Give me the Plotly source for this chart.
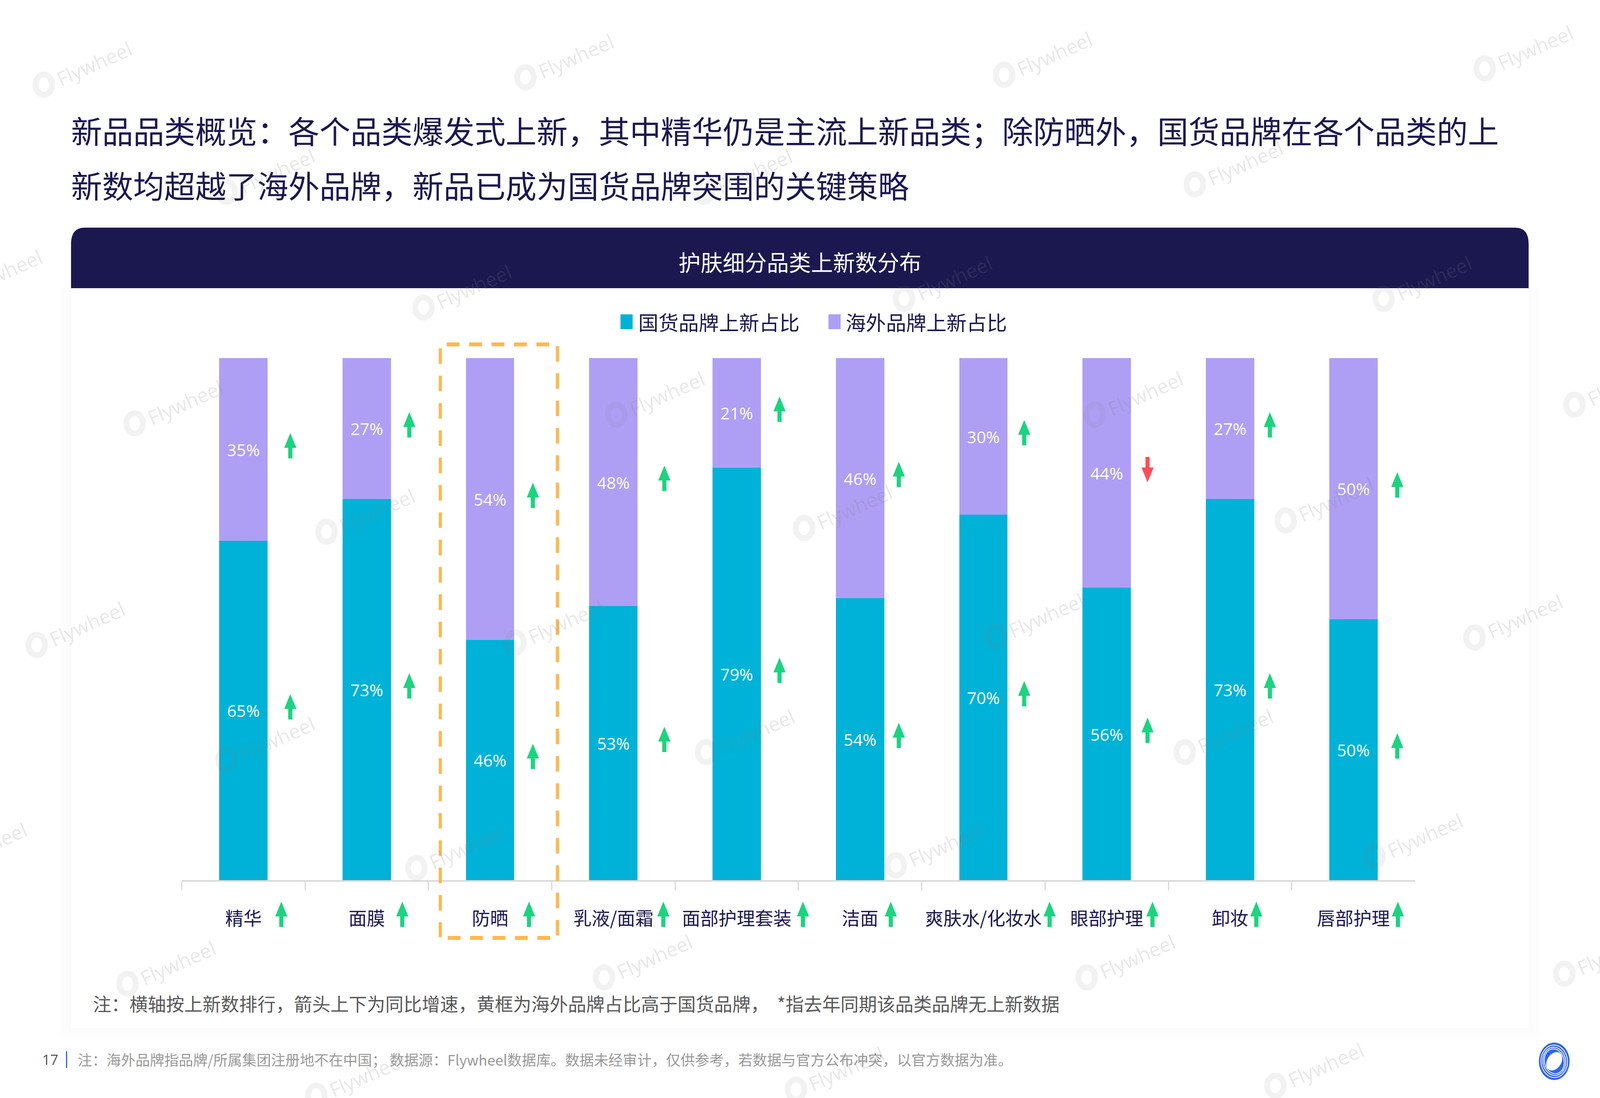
import math
import plotly.graph_objects as go

# ---------- data ----------
categories = ["精华", "面膜", "防晒", "乳液/面霜", "面部护理套装", "洁面", "爽肤水/化妆水", "眼部护理", "卸妆", "唇部护理"]
domestic_share = [65, 73, 46, 52.5, 79, 54, 70, 56, 73, 50]
overseas_share = [35, 27, 54, 47.5, 21, 46, 30, 44, 27, 50]
domestic_labels = ["65%", "73%", "46%", "53%", "79%", "54%", "70%", "56%", "73%", "50%"]
overseas_labels = ["35%", "27%", "54%", "48%", "21%", "46%", "30%", "44%", "27%", "50%"]
domestic_trend = ["up"] * 10
overseas_trend = ["up", "up", "up", "up", "up", "up", "up", "down", "up", "up"]
category_trend = ["up"] * 10
series_names = ["国货品牌上新占比", "海外品牌上新占比"]

title_lines = ["新品品类概览：各个品类爆发式上新，其中精华仍是主流上新品类；除防晒外，国货品牌在各个品类的上",
               "新数均超越了海外品牌，新品已成为国货品牌突围的关键策略"]
panel_title = "护肤细分品类上新数分布"
note_text = "注：横轴按上新数排行，箭头上下为同比增速，黄框为海外品牌占比高于国货品牌，  *指去年同期该品类品牌无上新数据"
source_text = "注：海外品牌指品牌/所属集团注册地不在中国； 数据源：Flywheel数据库。数据未经审计，仅供参考，若数据与官方公布冲突，以官方数据为准。"
page_number = "17"

# ---------- layout constants ----------
# Layout is measured on the reference's 5000x2812 canvas; the browser window really is 4096 wide,
# so the figure fills 4096x2812 with the same fractional positions and width-fitted fonts.
W, H = 5000, 2812
FIG_W = 4096
S = FIG_W / W
TEAL, PURPLE, NAVY = "#00B2D7", "#AE9FF5", "#1B1850"
GREEN, RED, ORANGE = "#1BD47F", "#FF4D5A", "#FFB84D"
CJK = "Noto Sans CJK SC"
LATIN = "Open Sans"
PX0, PX1, PY_TOP, PY_BOT = 568, 4422, 917, 2254
BAR_SIDE_OFFSET = [.38, .345, .347, .413, .347, .314, .331, .331, .323, .356]
TICK_SIDE_OFFSET = [.307, .288, .316, .405, .537, .249, .537, .371, .213, .361]
ARROW_LIFT = 9


def fx(p): return p / W
def fy(p): return 1 - p / H


shapes, annotations = [], []


def text(s, x, y, size, color, family=CJK, anchor="left", angle=0):
    annotations.append(dict(text=s, x=fx(x), y=fy(y), xref="paper", yref="paper", xanchor=anchor,
                            yanchor="middle", showarrow=False, textangle=angle,
                            font=dict(size=size * S, color=color, family=family)))


def rect(x0, y0, x1, y1, fill, layer="below"):
    shapes.append(dict(type="rect", xref="paper", yref="paper", x0=fx(x0), x1=fx(x1), y0=fy(y0), y1=fy(y1),
                       fillcolor=fill, line=dict(width=0), layer=layer))


def seg(x0, y0, x1, y1, color, width, dash="solid", layer="above"):
    shapes.append(dict(type="line", xref="paper", yref="paper", x0=fx(x0), x1=fx(x1), y0=fy(y0), y1=fy(y1),
                       line=dict(color=color, width=width, dash=dash), layer=layer))


def ellipse_path(cx, cy, a, b, deg, n=48):
    t = math.radians(deg)
    pts = []
    for k in range(n):
        u = 2 * math.pi * k / n
        ex, ey = a * math.cos(u), b * math.sin(u)
        px = cx + ex * math.cos(t) - ey * math.sin(t)
        py = cy + ex * math.sin(t) + ey * math.cos(t)
        pts.append(f"{fx(px):.5f},{fy(py):.5f}")
    return "M" + " L".join(pts) + " Z"


def arrow_path(direction):
    s = 1 if direction == "up" else -1
    pts = [(0, 33), (19, -5), (6.5, -5), (6.5, -32), (-6.5, -32), (-6.5, -5), (-19, -5)]
    return "M" + " L".join(f"{x * S:.2f},{s * y}" for x, y in pts) + " Z"


def arrow(i, offset, yref, yanchor, direction):
    shapes.append(dict(type="path", xref="x", yref=yref, xsizemode="pixel", ysizemode="pixel",
                       xanchor=i + offset, yanchor=yanchor, path=arrow_path(direction),
                       fillcolor=GREEN if direction == "up" else RED, line=dict(width=0), layer="above"))


# ---------- card + header ----------
for grow, dy in [(36, 30), (26, 22), (16, 14), (8, 6)]:
    rect(222 - grow, 738, 4777 + grow, 2632 + dy, "rgba(0,0,0,0.005)")
rect(222, 738, 4777, 2632, "#FFFFFF")
r = 42
shapes.append(dict(type="path", xref="paper", yref="paper", layer="below", fillcolor=NAVY, line=dict(width=0),
                   path=f"M{fx(222)},{fy(738)} L{fx(222)},{fy(583 + r)} Q{fx(222)},{fy(583)} {fx(222 + r)},{fy(583)} "
                        f"L{fx(4777 - r)},{fy(583)} Q{fx(4777)},{fy(583)} {fx(4777)},{fy(583 + r)} L{fx(4777)},{fy(738)} Z"))

# ---------- texts ----------
text(title_lines[0], 220, 332, 97, NAVY)
text(title_lines[1], 220, 472, 97, NAVY)
text(panel_title, 2500, 669, 69, "#FFFFFF", anchor="center")
text(note_text, 288, 2568, 57.1, "#595959")
text(page_number, 129, 2713, 44, "#555555", family=LATIN)
seg(208, 2692, 208, 2735, "#2F5FE0", 3)
text(source_text, 240, 2713, 45.1, "#999999")

# ---------- legend ----------
for name, color, kx, tx in zip(series_names, [TEAL, PURPLE], [1939, 2589], [1992, 2640]):
    rect(kx, 805, kx + 38, 843, color, layer="above")
    text(name, tx, 823, 63, NAVY)

# ---------- dashed highlight frame ----------
DASH_H = f"{40 * S:.1f}px,{30 * S:.1f}px"
DASH_V = "40px,30px"
seg(1396, 882, 1740, 882, ORANGE, 10, DASH_H)
seg(1399, 2402, 1725, 2402, ORANGE, 10, DASH_H)
seg(1376, 892, 1376, 2400, ORANGE, 8, DASH_V)
seg(1742, 886, 1742, 2396, ORANGE, 8, DASH_V)

# ---------- arrows ----------
ph = PY_BOT - PY_TOP
for i in range(len(categories)):
    mid_d = domestic_share[i] / 2
    mid_o = domestic_share[i] + overseas_share[i] / 2
    arrow(i, BAR_SIDE_OFFSET[i], "y", mid_d + ARROW_LIFT * 100 / ph, domestic_trend[i])
    arrow(i, BAR_SIDE_OFFSET[i], "y", mid_o + ARROW_LIFT * 100 / ph, overseas_trend[i])
    arrow(i, TICK_SIDE_OFFSET[i], "paper", fy(2342), category_trend[i])

# ---------- watermark ----------
SC = W / 1568
marks = [(43, 68), (515, 62), (984, 60), (1455, 55), (222, 154), (690, 154), (1171, 148),
         (-45, 235), (415, 247), (886, 240), (1356, 240), (132, 340), (604, 333), (1073, 333), (1543, 325),
         (320, 427), (788, 424), (1260, 418), (36, 518), (505, 516), (976, 511), (1445, 512),
         (222, 610), (692, 604), (1161, 604), (-60, 695), (408, 697), (878, 695), (1347, 688),
         (125, 790), (592, 785), (1065, 785), (1533, 782), (310, 880), (780, 875), (1250, 872)]
for mx, my in marks:
    cx, cy = mx * SC, my * SC
    shapes.append(dict(type="path", xref="paper", yref="paper", layer="above",
                       path=ellipse_path(cx, cy, 26, 26, 0), fillcolor="rgba(0,0,0,0)",
                       line=dict(color="rgba(130,130,130,0.10)", width=15)))
    text("Flywheel", cx + 158, cy - 54, 62, "rgba(130,130,130,0.18)", family=LATIN, anchor="center", angle=-24)

# ---------- corner logo ----------
LX, LY = 4857, 2718
BLUE = "#2F66EE"
shapes.append(dict(type="path", xref="paper", yref="paper", layer="above", path=ellipse_path(LX, LY, 48, 48, 0),
                   fillcolor=BLUE, line=dict(width=0)))
for a, b in [(41, 42), (35, 37), (30, 33)]:
    shapes.append(dict(type="path", xref="paper", yref="paper", layer="above", path=ellipse_path(LX, LY, a, b, -40),
                       fillcolor="rgba(0,0,0,0)", line=dict(color="#FFFFFF", width=2)))
shapes.append(dict(type="path", xref="paper", yref="paper", layer="above", path=ellipse_path(LX, LY, 28, 20, -40),
                   fillcolor="#FFFFFF", line=dict(width=0)))

# ---------- figure ----------
fig = go.Figure()
fig.add_bar(x=categories, y=domestic_share, name=series_names[0], marker=dict(color=TEAL, line=dict(width=0)),
            text=domestic_labels, textposition="inside", insidetextanchor="middle", textangle=0,
            textfont=dict(size=52 * S, color="#FFFFFF", family=LATIN), cliponaxis=False)
fig.add_bar(x=categories, y=overseas_share, name=series_names[1], marker=dict(color=PURPLE, line=dict(width=0)),
            text=overseas_labels, textposition="inside", insidetextanchor="middle", textangle=0,
            textfont=dict(size=52 * S, color="#FFFFFF", family=LATIN), cliponaxis=False)

fig.update_layout(
    width=FIG_W, height=H, margin=dict(l=0, r=0, t=0, b=0), autosize=False,
    paper_bgcolor="#FFFFFF", plot_bgcolor="rgba(0,0,0,0)",
    barmode="stack", bargap=0.608, showlegend=False, uniformtext=dict(mode=False),
    shapes=shapes, annotations=annotations,
    font=dict(family=CJK),
    xaxis=dict(domain=[fx(PX0), fx(PX1)], type="category", range=[-0.5, 9.5], autorange=False,
               categoryorder="array", categoryarray=categories,
               showline=True, linecolor="#D9D9D9", linewidth=4, showgrid=False, zeroline=False,
               ticks="outside", tickson="boundaries", ticklen=22, tickwidth=3, tickcolor="#D9D9D9",
               tickfont=dict(size=57 * S, color=NAVY, family=CJK), tickangle=0, ticklabelstandoff=55, automargin=False),
    yaxis=dict(domain=[fy(PY_BOT), fy(PY_TOP)], range=[0, 100], autorange=False, visible=False),
)

fig.write_html("out.html", config={"displayModeBar": False},
               post_script="document.body.style.margin='0';document.documentElement.style.overflow='hidden';")
